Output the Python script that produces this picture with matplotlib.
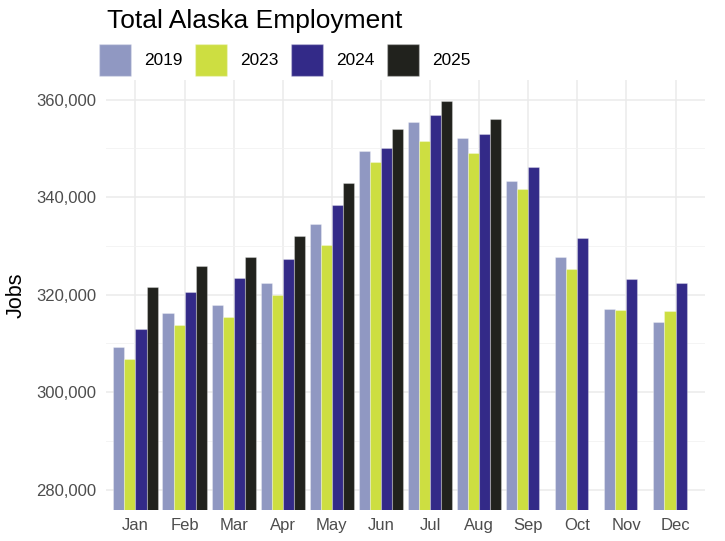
import matplotlib.pyplot as plt
import numpy as np
from matplotlib.patches import Patch
from matplotlib.ticker import FuncFormatter, MultipleLocator

plt.rcParams['font.family'] = ['Liberation Sans', 'DejaVu Sans']

months = ["Jan", "Feb", "Mar", "Apr", "May", "Jun", "Jul", "Aug", "Sep", "Oct", "Nov", "Dec"]
jobs_2019 = [309300, 316300, 317800, 322300, 334500, 349400, 355300, 352200, 343200, 327600, 317100, 314400]
jobs_2023 = [306700, 313800, 315300, 319900, 330100, 347100, 351400, 349100, 341600, 325200, 316900, 316600]
jobs_2024 = [312900, 320500, 323400, 327200, 338300, 350100, 356900, 353000, 346100, 331600, 323200, 322300]
jobs_2025 = [321500, 325800, 327700, 332100, 342800, 353900, 359600, 355900]

series = [
    ("2019", jobs_2019, "#9098C2"),
    ("2023", jobs_2023, "#CDDE41"),
    ("2024", jobs_2024, "#332A88"),
    ("2025", jobs_2025, "#21221D"),
]

fig = plt.figure(figsize=(7.25, 5.41), dpi=100)
ax = fig.add_axes([106 / 725, 31 / 541, 599 / 725, 430 / 541])

x = np.arange(1, len(months) + 1)
w = 0.225
outline = (1, 1, 1, 0.3)
for i, (name, vals, col) in enumerate(series):
    xs = x[:len(vals)] + (i - 1.5) * w
    ax.bar(xs, vals, width=w, color=col, edgecolor=outline, linewidth=0.8,
           label=name, zorder=2)

ax.set_xlim(0.4, 12.6)
ax.set_ylim(275800, 364000)
ax.set_xticks(x)
ax.set_xticklabels(months)
ax.yaxis.set_major_locator(MultipleLocator(20000))
ax.yaxis.set_minor_locator(MultipleLocator(10000))
ax.yaxis.set_major_formatter(FuncFormatter(lambda v, p: f"{int(v):,}"))
ax.grid(which="major", color="#EBEBEB", linewidth=1.1, zorder=0)
ax.grid(which="minor", axis="y", color="#F2F2F2", linewidth=0.6, zorder=0)
ax.set_axisbelow(True)
for s in ax.spines.values():
    s.set_visible(False)
ax.tick_params(which="both", length=0, labelsize=12, labelcolor="#4D4D4D")
ax.tick_params(axis="y", pad=7)
ax.tick_params(axis="x", pad=5.5)
ax.set_ylabel("Jobs", fontsize=15.5)
ax.yaxis.set_label_coords(-0.132, 0.5)

fig.text(107 / 725, 1 - 27.7 / 541, "Total Alaska Employment", fontsize=19,
         va="baseline", ha="left")

handles = [Patch(facecolor=c, edgecolor=outline, label=n) for n, _, c in series]
fig.legend(handles=handles, loc="upper left", bbox_to_anchor=(99 / 725, 1 - 44 / 541),
           ncol=4, frameon=False, fontsize=12.4, handlelength=1.85, handleheight=2.48,
           handletextpad=0.75, columnspacing=0.75, borderpad=0, borderaxespad=0)

fig.savefig("out.png", dpi=100)
